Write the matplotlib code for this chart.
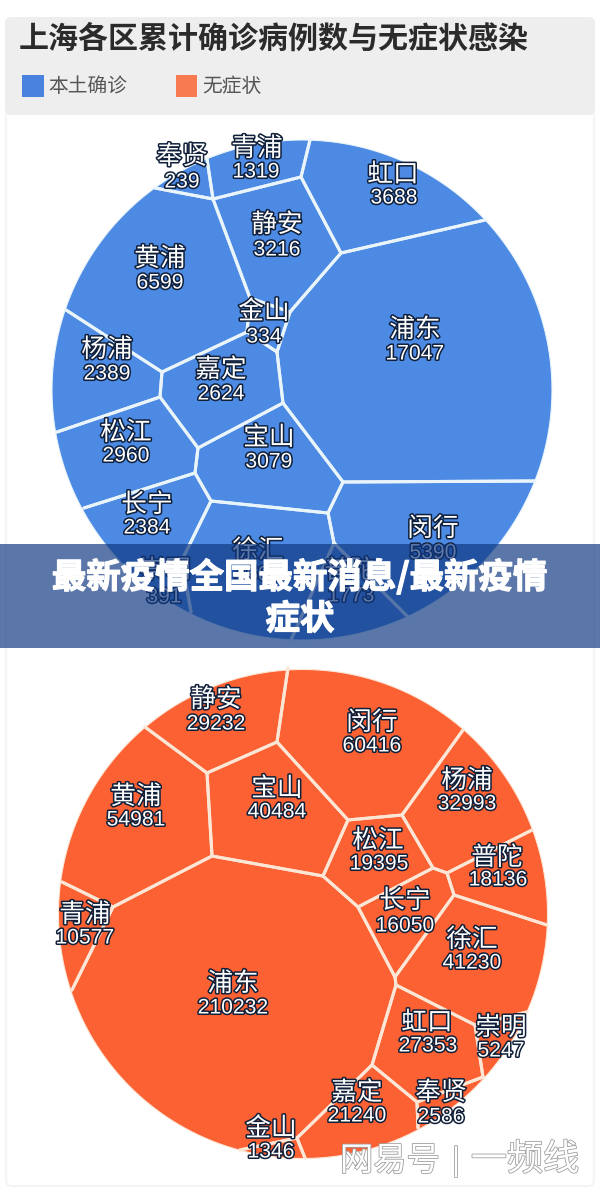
"""Voronoi treemaps of Shanghai district case counts, with a banner overlay."""

import numpy as np
import matplotlib
matplotlib.use("Agg")
import matplotlib.pyplot as plt
import matplotlib.patheffects as pe
from matplotlib.patches import Polygon, Rectangle, FancyBboxPatch

CJK = ["Noto Sans CJK SC", "DejaVu Sans"]
plt.rcParams["font.family"] = CJK

TITLE = "上海各区累计确诊病例数与无症状感染"
BANNER_LINES = ["最新疫情全国最新消息/最新疫情", "症状"]
LEGEND_LABELS = ["本土确诊", "无症状"]

# values (徐汇 sits behind the banner text, so estimated)
local_names = ["青浦", "奉贤", "虹口", "静安", "黄浦", "金山", "浦东", "杨浦",
               "嘉定", "松江", "宝山", "长宁", "徐汇", "闵行", "崇明", "普陀"]
local_values = [1319, 239, 3688, 3216, 6599, 334, 17047, 2389,
                2624, 2960, 3079, 2384, 4500, 5390, 391, 1773]

asym_names = ["静安", "闵行", "宝山", "杨浦", "黄浦", "松江", "普陀", "长宁",
              "青浦", "徐汇", "浦东", "虹口", "崇明", "嘉定", "奉贤", "金山"]
asym_values = [29232, 60416, 40484, 32993, 54981, 19395, 18136, 16050,
               10577, 41230, 210232, 27353, 5247, 21240, 2586, 1346]

# layout of the cells, in image pixels (same order as the names)
TOP_C, TOP_R = (302, 390), 250
top_cells = [
    [(207, 159), (213, 199), (301, 177), (310, 140)],
    [(155, 188), (213, 199), (207, 159)],
    [(310, 140), (301, 177), (341, 253), (485, 220)],
    [(213, 199), (301, 177), (341, 253), (290, 312), (250, 298)],
    [(155, 188), (213, 199), (250, 298), (247, 332), (162, 372), (66, 310)],
    [(250, 298), (290, 312), (277, 352), (247, 332)],
    [(341, 253), (485, 220), (535, 481), (343, 482), (283, 403), (277, 352), (290, 312)],
    [(66, 310), (162, 372), (160, 397), (57, 432)],
    [(162, 372), (247, 332), (277, 352), (283, 403), (198, 448), (160, 397)],
    [(57, 432), (160, 397), (198, 448), (195, 473), (84, 508)],
    [(283, 403), (343, 482), (328, 513), (211, 501), (195, 473), (198, 448)],
    [(84, 508), (195, 473), (211, 501), (182, 560), (124, 565)],
    [(211, 501), (328, 513), (334, 543), (291, 640), (191, 612), (182, 560)],
    [(343, 482), (535, 481), (408, 617), (334, 543), (328, 513)],
    [(124, 565), (182, 560), (191, 612)],
    [(334, 543), (408, 617), (291, 640)],
]
top_name_xy = [(257, 149), (182, 157), (393, 175), (277, 225), (160, 259), (264, 312),
               (415, 330), (107, 350), (221, 370), (126, 433), (269, 438), (147, 505),
               (258, 551), (433, 529), (165, 571), (350, 571)]
top_value_xy = [(256, 172), (182, 182), (394, 198), (277, 250), (160, 283), (264, 337),
                (415, 354), (107, 374), (221, 394), (126, 456), (269, 462), (147, 528),
                (258, 575), (433, 553), (164, 597), (351, 596)]

BOT_C, BOT_R = (303, 914), 244.5
bot_cells = [
    [(145, 727), (207, 773), (277, 742), (288, 668)],
    [(288, 668), (277, 742), (348, 820), (402, 815), (463, 730)],
    [(207, 773), (277, 742), (348, 820), (323, 876), (212, 856)],
    [(463, 730), (402, 815), (433, 868), (447, 873), (532, 830)],
    [(145, 727), (207, 773), (212, 856), (113, 907), (62, 882)],
    [(348, 820), (402, 815), (433, 868), (358, 907), (323, 876)],
    [(532, 830), (447, 873), (454, 895), (547, 925)],
    [(358, 907), (433, 868), (447, 873), (454, 895), (395, 977)],
    [(62, 882), (113, 907), (72, 990)],
    [(454, 895), (547, 925), (527, 1012), (475, 1025), (396, 985), (395, 977)],
    [(113, 907), (212, 856), (323, 876), (358, 907), (395, 977), (396, 985), (372, 1065),
     (297, 1138), (240, 1150), (72, 990)],
    [(396, 985), (475, 1025), (483, 1077), (417, 1102), (372, 1065)],
    [(475, 1025), (527, 1012), (483, 1077)],
    [(372, 1065), (417, 1102), (418, 1128), (305, 1158), (297, 1138)],
    [(417, 1102), (483, 1077), (418, 1128)],
    [(240, 1150), (297, 1138), (305, 1158)],
]
bot_name_xy = [(216, 700), (372, 723), (277, 789), (467, 781), (136, 797), (378, 841),
               (497, 858), (405, 901), (85, 915), (472, 940), (233, 984), (427, 1023),
               (501, 1028), (357, 1093), (441, 1093), (271, 1129)]
bot_value_xy = [(216, 724), (372, 746), (277, 812), (467, 804), (136, 820), (379, 864),
                (498, 880), (405, 926), (85, 938), (472, 963), (233, 1008), (428, 1046),
                (501, 1051), (357, 1116), (441, 1117), (271, 1152)]

BLUE = "#4d8ae4"
ORANGE = "#fb6132"


def on_rim(pt, centre, radius):
    return abs(np.hypot(pt[0] - centre[0], pt[1] - centre[1]) - radius) < 6


def arc_points(p0, p1, centre, radius):
    a0 = np.arctan2(p0[1] - centre[1], p0[0] - centre[0])
    a1 = np.arctan2(p1[1] - centre[1], p1[0] - centre[0])
    da = (a1 - a0 + np.pi) % (2 * np.pi) - np.pi
    angles = a0 + np.linspace(0, 1, 40) * da
    return list(zip(centre[0] + radius * np.cos(angles), centre[1] + radius * np.sin(angles)))


def draw_cell(ax, pts, centre, radius, colour, edge):
    outline = []
    rim_parts, inner_parts = [], []
    for i, p0 in enumerate(pts):
        p1 = pts[(i + 1) % len(pts)]
        if on_rim(p0, centre, radius) and on_rim(p1, centre, radius):
            arc = arc_points(p0, p1, centre, radius)
            outline += arc
            rim_parts.append(arc)
        else:
            outline.append(p0)
            inner_parts.append([p0, p1])
    ax.add_patch(Polygon(outline, closed=True, facecolor=colour, edgecolor="none", zorder=2))
    for part in rim_parts:
        x, y = zip(*part)
        ax.plot(x, y, color=edge, lw=0.8, zorder=2.1)
    for part in inner_parts:
        x, y = zip(*part)
        ax.plot(x, y, color=edge, lw=2.2, solid_capstyle="round", zorder=2.2)


def draw_map(ax, cells, centre, radius, colour, edge, names, values, name_xy, value_xy):
    for pts in cells:
        draw_cell(ax, pts, centre, radius, colour, edge)
    halo = [pe.withStroke(linewidth=2.2, foreground="#10203a")]
    for name, val, nxy, vxy in zip(names, values, name_xy, value_xy):
        ax.text(nxy[0], nxy[1], name, color="white", fontsize=18.5, ha="center", va="center",
                path_effects=halo, zorder=3)
        ax.text(vxy[0], vxy[1], str(val), color="white", fontsize=15.2, ha="center", va="center",
                family="Liberation Sans", path_effects=halo, zorder=3)


fig = plt.figure(figsize=(6, 11.93), dpi=100, facecolor="white")
ax = fig.add_axes([0, 0, 1, 1])
ax.set_xlim(0, 600)
ax.set_ylim(1193, 0)
ax.axis("off")

# card and header band
ax.add_patch(FancyBboxPatch((6, 22), 588, 1164, boxstyle="round,pad=0,rounding_size=6",
                            facecolor="white", edgecolor="#f5f5f5", linewidth=1.5, zorder=0))
ax.add_patch(FancyBboxPatch((5, 17), 590, 98, boxstyle="round,pad=0,rounding_size=6",
                            facecolor="#eeeeee", edgecolor="none", zorder=1))
ax.text(19, 39, TITLE, fontsize=21.6, fontweight="bold", color="#2b2b2b", va="center", zorder=2)
ax.add_patch(Rectangle((22, 75), 22, 22, facecolor="#4a82e0", edgecolor="none", zorder=2))
ax.text(48, 86, LEGEND_LABELS[0], fontsize=14.2, color="#555555", va="center", zorder=2)
ax.add_patch(Rectangle((176, 75), 21, 22, facecolor="#f77a50", edgecolor="none", zorder=2))
ax.text(202, 86, LEGEND_LABELS[1], fontsize=14.2, color="#555555", va="center", zorder=2)

draw_map(ax, top_cells, TOP_C, TOP_R, BLUE, "#e9f5fb", local_names, local_values,
         top_name_xy, top_value_xy)
draw_map(ax, bot_cells, BOT_C, BOT_R, ORANGE, "#fde6d6", asym_names, asym_values,
         bot_name_xy, bot_value_xy)

# banner across the middle
ax.add_patch(Rectangle((0, 544), 600, 104, facecolor=(14 / 255, 55 / 255, 128 / 255),
                       alpha=0.68, edgecolor="none", zorder=5))
heavy = [pe.withStroke(linewidth=0.9, foreground="white")]
ax.text(300, 577, BANNER_LINES[0], fontsize=24.8, fontweight="bold", color="white",
        ha="center", va="center", path_effects=heavy, zorder=6)
ax.text(300, 619, BANNER_LINES[1], fontsize=24.8, fontweight="bold", color="white",
        ha="center", va="center", path_effects=heavy, zorder=6)

# watermark
mark = [pe.withStroke(linewidth=1.2, foreground="#a0a0a0")]
ax.text(390, 1161, "网易号", fontsize=24, color="white", ha="center", va="center",
        path_effects=mark, zorder=4)
ax.text(456, 1161, "|", fontsize=20, color="white", ha="center", va="center",
        path_effects=mark, zorder=4)
ax.text(525, 1160, "一频线", fontsize=26, color="white", ha="center", va="center",
        path_effects=mark, zorder=4)

fig.savefig("out.png", dpi=100)
